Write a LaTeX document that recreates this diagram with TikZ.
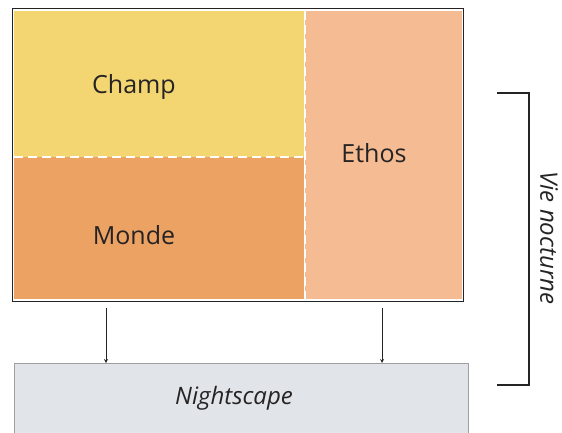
\documentclass[tikz,border=0pt]{standalone}
\usepackage{fontspec}
\setmainfont{Open Sans}
\usetikzlibrary{positioning}
\definecolor{champcol}{HTML}{F3D571}
\definecolor{mondecol}{HTML}{ECA263}
\definecolor{ethoscol}{HTML}{F5BB93}
\definecolor{nightcol}{HTML}{E1E5E9}
\definecolor{inkcol}{HTML}{262324}

\begin{document}
\begin{tikzpicture}[x=1pt, y=-1pt,
    region/.style = {rectangle, inner sep=0pt, outer sep=0pt},
    label/.style = {text=inkcol, font=\fontsize{25}{28}\selectfont},
    slanted/.style = {text=inkcol, font=\fontsize{24}{27}\selectfont\itshape},
    seam/.style = {white, line width=2pt, dash pattern=on 9pt off 5pt},
    arrow/.style = {->, >=stealth, line width=0.8pt, inkcol}]
    \clip (0,0) rectangle (562,433);
    % Frame
    \node[region, draw=inkcol, line width=1pt, fill=white,
        minimum width=451, minimum height=292] (frame) at (237.5,155) {};
    % Regions
    \node[region, fill=champcol, minimum width=290, minimum height=146] (champ) at (159,84) {};
    \node[region, fill=mondecol, minimum width=290, minimum height=142] (monde) at (159,228) {};
    \node[region, fill=ethoscol, minimum width=157, minimum height=288] (ethos) at (383.5,155) {};
    \draw[seam] (champ.south west) -- (champ.south east);
    \draw[seam] (ethos.north west) -- (ethos.south west);
    % Texts
    \node[label] (champtxt) at (134,87) {Champ};
    \node[label] (mondetxt) at (134,235) {Monde};
    \node[label] (ethostxt) at (374,153) {Ethos};
    % Nightscape
    \node[region, draw=gray!75, line width=0.8pt, fill=nightcol,
        minimum width=454, minimum height=90] (night) at (241,408) {};
    \node[slanted] (nighttxt) at (234,398) {Nightscape};
    % Arrows
    \coordinate (a1) at (106,308);
    \coordinate (a2) at (382,308);
    \draw[arrow] (a1) -- (a1 |- night.north);
    \draw[arrow] (a2) -- (a2 |- night.north);
    % Bracket
    \coordinate (b1) at (497,93);
    \coordinate (b2) at (497,385);
    \draw[inkcol, line width=1.5pt] (b1) -| (529,385) -- (b2);
    \node[slanted, rotate=-90] (vietxt) at (549,238) {Vie nocturne};
\end{tikzpicture}
\end{document}
